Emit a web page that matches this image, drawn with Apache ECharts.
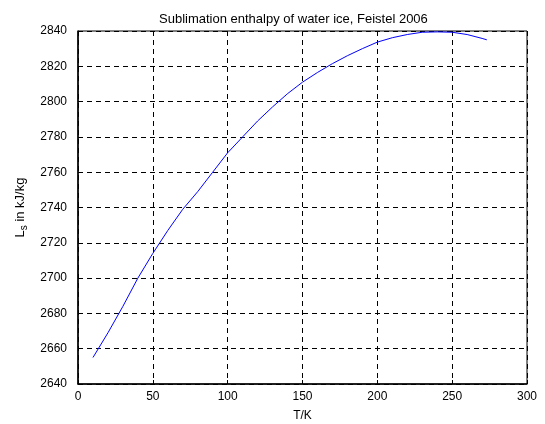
<!DOCTYPE html>
<html>
<head>
<meta charset="utf-8">
<script src="https://cdn.jsdelivr.net/npm/echarts@6/dist/echarts.min.js"></script>
<style>
  html, body { margin: 0; padding: 0; background: #fff; }
  #chart { width: 545px; height: 424px; }
</style>
</head>
<body>
<div id="chart"></div>
<script>
// Temperature in K
const temperature = [10, 20, 30, 40, 50, 60, 70, 80, 90, 100, 110, 120, 130, 140, 150,
                     160, 170, 180, 190, 200, 210, 220, 230, 240, 250, 260, 270, 273.16];
// Sublimation enthalpy of ice in kJ/kg
const enthalpy = [2655, 2669, 2684, 2700, 2714, 2727, 2739, 2749, 2760, 2771, 2780, 2789, 2797, 2804.5, 2811,
                  2816.5, 2821.5, 2826, 2830, 2833.7, 2836.2, 2838, 2839.3, 2839.5, 2839.3, 2838, 2835.8, 2835];

const xTicks = { min: 0, max: 300, step: 50 };
const yTicks = { min: 2640, max: 2840, step: 20 };

const FONT = '"Liberation Sans", Arial, Helvetica, sans-serif';

const chart = echarts.init(document.getElementById('chart'), null, { renderer: 'canvas' });

const gridLine = { show: true, lineStyle: { color: '#000', width: 1, type: [5, 4] } };

chart.setOption({
  animation: false,
  backgroundColor: '#fff',
  title: {
    text: 'Sublimation enthalpy of water ice, Feistel 2006',
    left: 154,
    top: 8,
    textStyle: { fontFamily: FONT, fontSize: 13, fontWeight: 'normal', color: '#000' }
  },
  grid: {
    left: 78, right: 18, top: 31, bottom: 40,
    containLabel: false,
    outerBoundsMode: 'none',
    show: true, borderColor: '#000', borderWidth: 1, backgroundColor: 'transparent'
  },
  xAxis: {
    type: 'value',
    min: xTicks.min, max: xTicks.max, interval: xTicks.step,
    name: 'T/K',
    nameLocation: 'middle',
    nameGap: 26,
    nameTextStyle: { fontFamily: FONT, fontSize: 12, color: '#000' },
    axisLine: { show: true, onZero: false, lineStyle: { color: '#000', width: 1.5 } },
    axisTick: { show: true, inside: true, length: 4, lineStyle: { color: '#000' } },
    axisLabel: { fontFamily: FONT, fontSize: 12, color: '#000', margin: 7 },
    splitLine: gridLine
  },
  yAxis: {
    type: 'value',
    min: yTicks.min, max: yTicks.max, interval: yTicks.step,
    name: '{m|L}{s|s}{m| in kJ/kg}',
    nameLocation: 'middle',
    nameGap: 44,
    nameTextStyle: {
      rich: {
        m: { fontFamily: FONT, fontSize: 13, color: '#000' },
        s: { fontFamily: FONT, fontSize: 10, color: '#000', verticalAlign: 'bottom', padding: [7, 0, 0, 0] }
      }
    },
    axisLine: { show: true, lineStyle: { color: '#000', width: 1.5 } },
    axisTick: { show: true, inside: true, length: 4, lineStyle: { color: '#000' } },
    axisLabel: { fontFamily: FONT, fontSize: 12, color: '#000', margin: 11, formatter: v => String(v) },
    splitLine: gridLine
  },
  series: [{
    type: 'line',
    data: temperature.map((t, i) => [t, enthalpy[i]]),
    showSymbol: false,
    lineStyle: { color: '#0000ff', width: 1 },
    itemStyle: { color: '#0000ff' },
    clip: true
  }]
});
</script>
</body>
</html>
